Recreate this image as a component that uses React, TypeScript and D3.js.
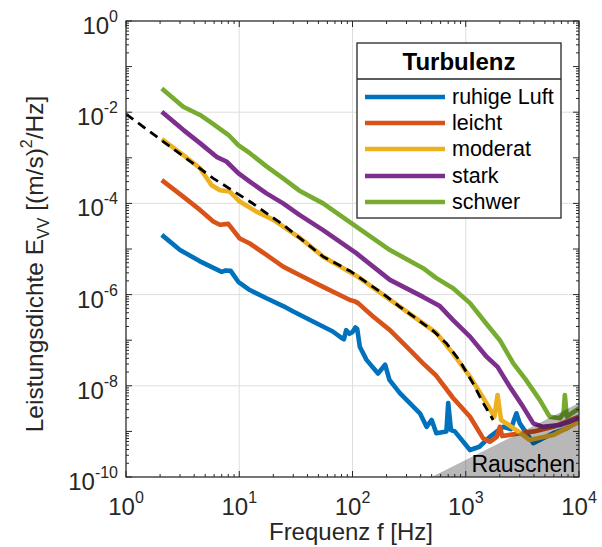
import React from "react";
import * as d3 from "d3";

const W = 602;
const H = 547;
const M = { left: 126, right: 579, top: 21, bottom: 477 };

const xTickExps = [0, 1, 2, 3, 4];
const yTickExps = [0, -2, -4, -6, -8, -10];

const seriesNames = ["ruhige Luft", "leicht", "moderat", "stark", "schwer"];
const seriesColors = ["#0072BD", "#D95319", "#EDB120", "#7E2F8E", "#77AC30"];

const blueF = [2.07, 3.0, 4.5, 7.0, 7.6, 8.4, 9.8, 12.4, 17.4, 24.4, 30, 44.8, 67, 80, 84, 88, 94, 100, 106, 110, 116, 133, 168, 194, 212, 262, 344, 394, 451, 500, 550, 675, 700, 740, 800, 1090, 1320, 1630, 2130, 2500, 2800, 3000, 3950, 5900, 7800, 10000];
const blueV = [2.04e-5, 9.55e-6, 5.37e-6, 3.16e-6, 3.39e-6, 3.31e-6, 1.91e-6, 1.26e-6, 8.3e-7, 5.6e-7, 4.27e-7, 2.57e-7, 1.55e-7, 1.12e-7, 1.05e-7, 1.66e-7, 1.38e-7, 1.51e-7, 1.9e-7, 1.78e-7, 7.2e-8, 3.7e-8, 1.86e-8, 2.9e-8, 1.35e-8, 6.9e-9, 3.5e-9, 2.5e-9, 1.26e-9, 1.78e-9, 9.1e-10, 1.0e-9, 4.2e-9, 1.07e-9, 1.0e-9, 3.9e-10, 4.6e-10, 7.6e-10, 1.26e-9, 1.12e-9, 2.5e-9, 1.5e-9, 5.5e-10, 9.1e-10, 1.17e-9, 1.78e-9];

const redF = [2.07, 3.2, 4.5, 5.9, 6.75, 8.0, 10.1, 12.4, 17.4, 24.4, 34, 55, 95, 105, 112, 152, 214, 300, 420, 550, 773, 1090, 1420, 1630, 1880, 2000, 2100, 3000, 4000, 5900, 10000];
const redV = [3.24e-4, 1.41e-4, 7.2e-5, 4.0e-5, 3.4e-5, 3.55e-5, 1.7e-5, 1.32e-5, 7.4e-6, 4.1e-6, 2.7e-6, 1.48e-6, 7.6e-7, 7.1e-7, 6.5e-7, 3.3e-7, 1.66e-7, 7.2e-8, 3.1e-8, 1.66e-8, 5.4e-9, 2.1e-9, 7.1e-10, 5.9e-10, 7.6e-10, 1.26e-9, 7.9e-10, 9.1e-10, 1.0e-9, 1.26e-9, 2.1e-9];

const yellowF = [2.07, 3.2, 4.5, 5.7, 6.75, 8.25, 10.1, 14.2, 19.9, 34, 55, 108, 214, 420, 550, 773, 1090, 1520, 1790, 1910, 2050, 2800, 3660, 5900, 10000];
const yellowV = [2.57e-3, 1.15e-3, 5.9e-4, 2.5e-4, 1.95e-4, 1.82e-4, 1.1e-4, 6.6e-5, 4.4e-5, 1.78e-5, 6.8e-6, 2.6e-6, 7.8e-7, 2.35e-7, 1.45e-7, 5.1e-8, 1.58e-8, 4.2e-9, 2.1e-9, 6.3e-9, 1.78e-9, 1.07e-9, 6.5e-10, 8.3e-10, 1.62e-9];

const purpleF = [2.07, 3.2, 4.5, 6.3, 7.7, 9.8, 12.4, 17.4, 24.4, 34, 55, 108, 214, 420, 590, 773, 1090, 1520, 1910, 2450, 3200, 3950, 4800, 6800, 10000];
const purpleV = [1.02e-2, 4.1e-3, 2.1e-3, 1.05e-3, 8.3e-4, 4.6e-4, 3.0e-4, 1.66e-4, 1.0e-4, 5.6e-5, 2.6e-5, 8.1e-6, 2.1e-6, 8.9e-7, 5.6e-7, 2.75e-7, 1.2e-7, 4.4e-8, 2.6e-8, 9.5e-9, 3.5e-9, 1.5e-9, 1.26e-9, 1.38e-9, 1.95e-9];

const greenF = [2.07, 3.2, 4.5, 5.5, 8.0, 9.8, 12.4, 17.4, 24.4, 34, 55, 108, 214, 420, 550, 773, 1090, 1520, 2000, 2630, 3400, 4500, 5500, 6800, 7300, 7500, 7800, 10000];
const greenV = [3.3e-2, 1.32e-2, 8.7e-3, 6.2e-3, 3.2e-3, 1.9e-3, 1.26e-3, 6.5e-4, 3.55e-4, 1.9e-4, 1.0e-4, 3.1e-5, 9.5e-6, 3.8e-6, 2.3e-6, 1.38e-6, 6.5e-7, 2.3e-7, 1.0e-7, 3.1e-8, 1.35e-8, 4.9e-9, 2.1e-9, 1.95e-9, 2.5e-9, 6.3e-9, 2.1e-9, 3.2e-9];

const modelF = [1, 2.07, 5.9, 12.4, 24.4, 55, 95, 133, 186, 262, 394, 516, 677, 887, 1162, 1425, 1746];
const modelV = [9.1e-3, 2.4e-3, 3.55e-4, 1.1e-4, 3.4e-5, 6.8e-6, 3.3e-6, 1.85e-6, 1.05e-6, 5.4e-7, 2.6e-7, 1.6e-7, 8.5e-8, 3.5e-8, 1.12e-8, 4.2e-9, 1.78e-9];

const noiseF = [500, 10000, 10000];
const noiseV = [1e-10, 4.2e-9, 1e-10];

const seriesF = [blueF, redF, yellowF, purpleF, greenF];
const seriesV = [blueV, redV, yellowV, purpleV, greenV];

const FONT = "'Liberation Sans', Arial, Helvetica, sans-serif";
const AX = "#262626";

export default function App() {
  const x = d3.scaleLog().domain([1, 1e4]).range([M.left, M.right]);
  const y = d3.scaleLog().domain([1e-10, 1]).range([M.bottom, M.top]);

  const line = d3
    .line<[number, number]>()
    .x((d) => x(d[0]))
    .y((d) => y(d[1]));

  const zip = (f: number[], v: number[]) => f.map((fi, i) => [fi, v[i]] as [number, number]);

  const xMinor: number[] = [];
  for (let e = 0; e < 4; e++) for (let k = 2; k <= 9; k++) xMinor.push(k * Math.pow(10, e));
  const yMinor: number[] = [];
  for (let e = -10; e < 0; e++) for (let k = 2; k <= 9; k++) yMinor.push(k * Math.pow(10, e));
  const yMajorAll: number[] = [];
  for (let e = -10; e <= 0; e++) yMajorAll.push(Math.pow(10, e));

  const noisePts = zip(noiseF, noiseV);
  const noisePath = "M" + noisePts.map((d) => `${x(d[0])},${y(d[1])}`).join("L") + "Z";

  const legX = 357, legY = 43, legW = 204, legH = 175, legSep = 79;
  const legRowY = [97, 123, 149, 176, 202];

  return (
    <svg width={W} height={H} style={{ position: "absolute", left: 0, top: 0 }} fontFamily={FONT}>
      <rect x={0} y={0} width={W} height={H} fill="#fff" />
      <defs>
        <clipPath id="plotclip">
          <rect x={M.left} y={M.top} width={M.right - M.left} height={M.bottom - M.top} />
        </clipPath>
      </defs>
      {xTickExps.map((e) => (
        <line key={"gx" + e} x1={x(Math.pow(10, e))} x2={x(Math.pow(10, e))} y1={M.top} y2={M.bottom} stroke="#dedede" strokeWidth={1} />
      ))}
      {yTickExps.map((e) => (
        <line key={"gy" + e} y1={y(Math.pow(10, e))} y2={y(Math.pow(10, e))} x1={M.left} x2={M.right} stroke="#dedede" strokeWidth={1} />
      ))}
      <g clipPath="url(#plotclip)">
        {seriesF.map((f, i) => (
          <path key={"s" + i} d={line(zip(f, seriesV[i])) || ""} fill="none" stroke={seriesColors[i]} strokeWidth={4.6} strokeLinejoin="round" strokeLinecap="butt" />
        ))}
        <path d={line(zip(modelF, modelV)) || ""} fill="none" stroke="#000" strokeWidth={2.8} strokeDasharray="9,6" />
        <path d={noisePath} fill="#000" fillOpacity={0.28} stroke="none" />
      </g>
      <text x={575} y={472} fontSize={23} textAnchor="end" fill="#000">Rauschen</text>
      <rect x={M.left} y={M.top} width={M.right - M.left} height={M.bottom - M.top} fill="none" stroke={AX} strokeWidth={1.2} />
      {xTickExps.map((e) => {
        const xx = x(Math.pow(10, e));
        return (
          <g key={"xt" + e}>
            <line x1={xx} x2={xx} y1={M.bottom} y2={M.bottom - 6} stroke={AX} />
            <line x1={xx} x2={xx} y1={M.top} y2={M.top + 6} stroke={AX} />
          </g>
        );
      })}
      {xMinor.map((v, i) => (
        <g key={"xm" + i}>
          <line x1={x(v)} x2={x(v)} y1={M.bottom} y2={M.bottom - 3} stroke={AX} />
          <line x1={x(v)} x2={x(v)} y1={M.top} y2={M.top + 3} stroke={AX} />
        </g>
      ))}
      {yMajorAll.map((v, i) => (
        <g key={"yt" + i}>
          <line y1={y(v)} y2={y(v)} x1={M.left} x2={M.left + 6} stroke={AX} />
          <line y1={y(v)} y2={y(v)} x1={M.right} x2={M.right - 6} stroke={AX} />
        </g>
      ))}
      {yMinor.map((v, i) => (
        <g key={"ym" + i}>
          <line y1={y(v)} y2={y(v)} x1={M.left} x2={M.left + 3} stroke={AX} />
          <line y1={y(v)} y2={y(v)} x1={M.right} x2={M.right - 3} stroke={AX} />
        </g>
      ))}
      {xTickExps.map((e) => (
        <text key={"xl" + e} x={x(Math.pow(10, e))} y={515} fontSize={24} textAnchor="middle" fill={AX}>
          10<tspan dy={-12} fontSize={16}>{String(e)}</tspan>
        </text>
      ))}
      {yTickExps.map((e) => (
        <text key={"yl" + e} x={118} y={y(Math.pow(10, e)) + 13} fontSize={24} textAnchor="end" fill={AX}>
          10<tspan dy={-12} fontSize={16}>{String(e)}</tspan>
        </text>
      ))}
      <text x={351} y={540} fontSize={24} textAnchor="middle" fill={AX}>Frequenz f [Hz]</text>
      <text transform="translate(43,264) rotate(-90)" fontSize={24.5} textAnchor="middle" fill={AX}>
        Leistungsdichte E<tspan dy={6} fontSize={16}>VV</tspan>
        <tspan dy={-6}> [(m/s)</tspan>
        <tspan dy={-11} fontSize={16}>2</tspan>
        <tspan dy={11}>/Hz]</tspan>
      </text>
      <rect x={legX} y={legY} width={legW} height={legH} fill="#fff" stroke={AX} strokeWidth={1.3} />
      <line x1={legX} x2={legX + legW} y1={legSep} y2={legSep} stroke={AX} strokeWidth={1.3} />
      <text x={legX + legW / 2} y={70} fontSize={24} fontWeight="bold" textAnchor="middle" fill="#000">Turbulenz</text>
      {seriesNames.map((n, i) => (
        <g key={"lg" + i}>
          <line x1={365} x2={445} y1={legRowY[i]} y2={legRowY[i]} stroke={seriesColors[i]} strokeWidth={4.6} />
          <text x={452} y={legRowY[i] + 7} fontSize={21.5} fill="#000">{n}</text>
        </g>
      ))}
    </svg>
  );
}
